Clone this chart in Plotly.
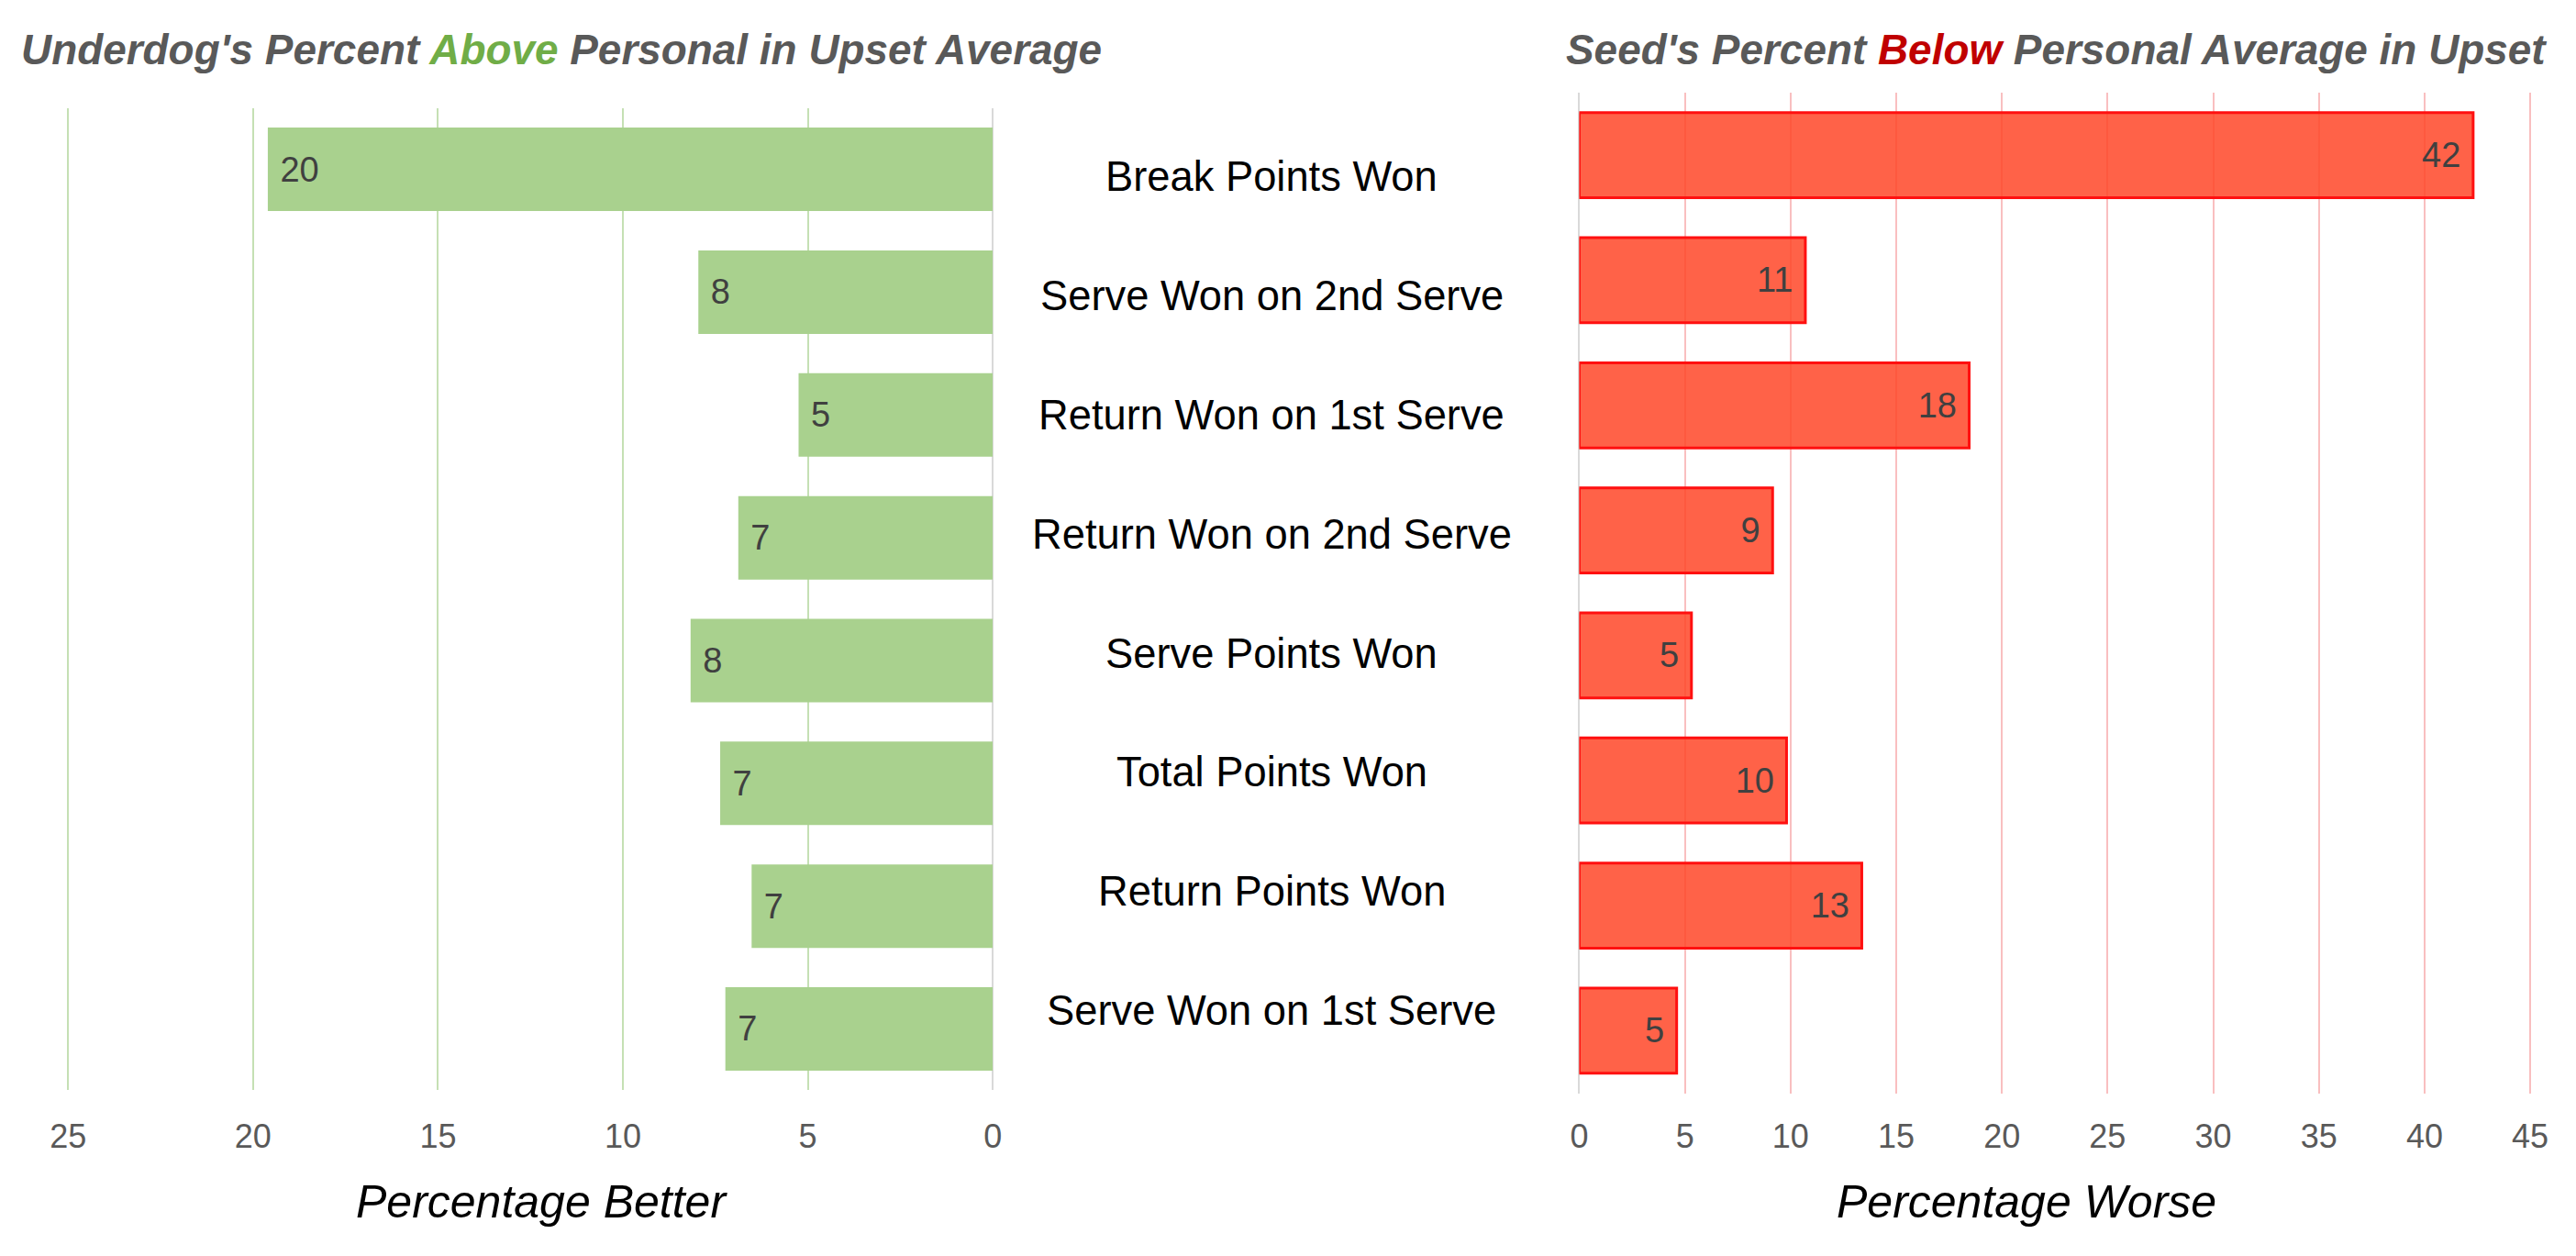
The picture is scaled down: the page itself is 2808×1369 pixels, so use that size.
import plotly.graph_objects as go

categories = ["Break Points Won", "Serve Won on 2nd Serve", "Return Won on 1st Serve",
              "Return Won on 2nd Serve", "Serve Points Won", "Total Points Won",
              "Return Points Won", "Serve Won on 1st Serve"]
underdog_above = [19.6, 7.96, 5.25, 6.88, 8.17, 7.37, 6.52, 7.23]
seed_below = [42.3, 10.7, 18.45, 9.15, 5.31, 9.81, 13.37, 4.61]
left_ticks = [0, 5, 10, 15, 20, 25]
right_ticks = [0, 5, 10, 15, 20, 25, 30, 35, 40, 45]

W, H = 2808, 1369
FONT = "Liberation Sans"


def sx(x):
    # target screen x -> figure x (compensates the slight horizontal fit of the page)
    return (x - 9.2) / 0.992


def px(x):
    return sx(x) / W


def py(y):
    return 1 - y / H


fig = go.Figure()
fig.add_trace(go.Bar(
    x=underdog_above, y=categories, orientation="h", xaxis="x", yaxis="y",
    marker=dict(color="#A9D18E", line=dict(width=0)),
    text=["\u00a0" + f"{v:.0f}" for v in underdog_above],
    textposition="inside", insidetextanchor="end", textangle=0,
    textfont=dict(family=FONT, size=38, color="#404040"),
    hoverinfo="skip", showlegend=False,
))
fig.add_trace(go.Bar(
    x=seed_below, y=categories, orientation="h", xaxis="x2", yaxis="y2",
    marker=dict(color="rgba(255,70,40,0.85)", line=dict(color="#FF1010", width=3)),
    text=[f"{v:.0f}" + "\u00a0" for v in seed_below],
    textposition="inside", insidetextanchor="end", textangle=0,
    textfont=dict(family=FONT, size=38, color="#404040"),
    hoverinfo="skip", showlegend=False,
))
# invisible carrier trace for the centred category labels
fig.add_trace(go.Scatter(
    x=[0] * len(categories), y=categories, xaxis="x3", yaxis="y3",
    mode="markers", marker=dict(opacity=0), hoverinfo="skip", showlegend=False,
))

tickfont = dict(family=FONT, size=36, color="#595959")

# screen positions of axis ends (target)
L0, L25 = sx(1081.6), sx(73.4)
R0, R45 = sx(1721.0), sx(2757.8)
lpu = (L0 - L25) / 25
rpu = (R45 - R0) / 45
ncat = len(categories)

fig.update_layout(
    width=W, height=H,
    margin=dict(l=0, r=0, t=0, b=0),
    paper_bgcolor="white", plot_bgcolor="rgba(0,0,0,0)",
    bargap=0.32,
    font=dict(family=FONT),
    xaxis=dict(domain=[(L25 - 0.3 * lpu) / W, L0 / W], range=[25.3, 0], tickvals=left_ticks,
               showgrid=True, gridcolor="#C5E0B4", gridwidth=2,
               zeroline=True, zerolinecolor="#D9D9D9", zerolinewidth=2,
               ticks="outside", ticklen=18, tickcolor="rgba(0,0,0,0)",
               tickfont=tickfont, showline=False, anchor="y"),
    xaxis2=dict(domain=[R0 / W, (R45 + 0.3 * rpu) / W], range=[0, 45.3], tickvals=right_ticks,
                showgrid=True, gridcolor="#F9BFC0", gridwidth=2,
                zeroline=True, zerolinecolor="#D9D9D9", zerolinewidth=2,
                ticks="outside", ticklen=15, tickcolor="rgba(0,0,0,0)",
                tickfont=tickfont, showline=False, anchor="y2"),
    xaxis3=dict(domain=[px(1300), px(1470)], range=[-1, 1], visible=False, anchor="y3"),
    yaxis=dict(domain=[py(1188.4), py(117.7)], type="category", range=[ncat - 0.5, -0.5],
               autorange=False, showticklabels=False, showgrid=False, zeroline=False, anchor="x"),
    yaxis2=dict(domain=[py(1191.5), py(101)], type="category", range=[ncat - 0.5, -0.5],
                autorange=False, showticklabels=False, showgrid=False, zeroline=False, anchor="x2"),
    yaxis3=dict(domain=[py(1166.4), py(128.1)], type="category", range=[ncat - 0.5, -0.5],
                autorange=False, visible=False, anchor="x3"),
)

annotations = []
for c in categories:
    annotations.append(dict(x=px(1385.8), xref="paper", y=c, yref="y3",
                            text=c, showarrow=False, xanchor="center", yanchor="middle",
                            font=dict(family=FONT, size=45.3, color="black")))

annotations.append(dict(x=px(590), y=py(1310), xref="paper", yref="paper",
                        text="<i>Percentage Better</i>", showarrow=False,
                        xanchor="center", yanchor="middle",
                        font=dict(family=FONT, size=50, color="black")))
annotations.append(dict(x=px(2209), y=py(1310), xref="paper", yref="paper",
                        text="<i>Percentage Worse</i>", showarrow=False,
                        xanchor="center", yanchor="middle",
                        font=dict(family=FONT, size=50, color="black")))

annotations.append(dict(x=px(611), y=py(54), xref="paper", yref="paper",
                        text="<b><i>Underdog's Percent <span style='color:#70AD47'>Above</span> Personal in Upset Average</i></b>",
                        showarrow=False, xanchor="center", yanchor="middle",
                        font=dict(family=FONT, size=45.9, color="#595959")))
annotations.append(dict(x=px(2241), y=py(54), xref="paper", yref="paper",
                        text="<b><i>Seed's Percent <span style='color:#C00000'>Below</span> Personal Average in Upset</i></b>",
                        showarrow=False, xanchor="center", yanchor="middle",
                        font=dict(family=FONT, size=45.9, color="#595959")))
fig.update_layout(annotations=annotations)

fig.write_html(
    "out.html",
    config={"displayModeBar": False},
    post_script="document.documentElement.style.margin='0';document.body.style.margin='0';"
                "document.documentElement.style.overflow='hidden';document.body.style.overflow='hidden';",
)
